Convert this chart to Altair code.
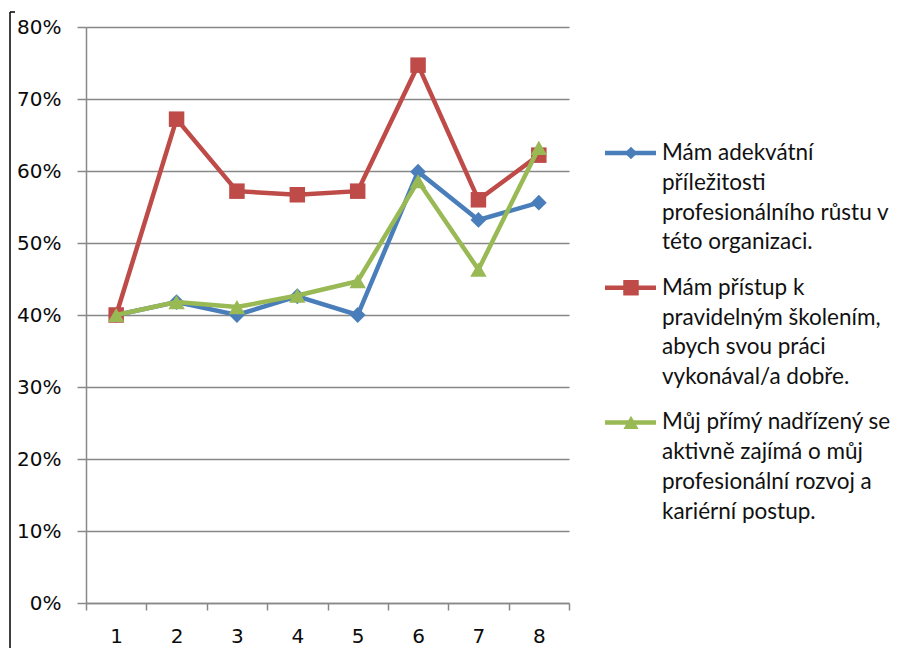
import altair as alt
import pandas as pd

# Survey items (legend text, one list entry per printed line)
series_names = [
    "Mám adekvátní příležitosti profesionálního růstu v této organizaci.",
    "Mám přístup k pravidelným školením, abych svou práci vykonával/a dobře.",
    "Můj přímý nadřízený se aktivně zajímá o můj profesionální rozvoj a kariérní postup.",
]
legend_lines = [
    ["Mám adekvátní", "příležitosti", "profesionálního růstu  v", "této organizaci."],
    ["Mám přístup  k", "pravidelným školením,", "abych svou práci", "vykonával/a  dobře."],
    ["Můj přímý nadřízený se", "aktivně zajímá  o můj", "profesionální rozvoj a", "kariérní postup."],
]
categories = ["1", "2", "3", "4", "5", "6", "7", "8"]
values_blue = [0.400, 0.418, 0.400, 0.426, 0.400, 0.599, 0.532, 0.556]
values_red = [0.400, 0.672, 0.572, 0.567, 0.572, 0.747, 0.560, 0.622]
values_green = [0.400, 0.418, 0.411, 0.427, 0.447, 0.586, 0.463, 0.632]
y_ticks = [0, 0.1, 0.2, 0.3, 0.4, 0.5, 0.6, 0.7, 0.8]

colors = ["#4A7EBB", "#BE4B48", "#98B954"]
shapes = ["diamond", "square", "triangle-up"]
sizes = [250, 240, 270]
legend_sizes = [160, 240, 230]

all_values = [values_blue, values_red, values_green]
rows = []
for name, vals in zip(series_names, all_values):
    for cat, v in zip(categories, vals):
        rows.append({"series": name, "cat": cat, "value": v})
df = pd.DataFrame(rows)

leg_rows = []
for i, (name, lines) in enumerate(zip(series_names, legend_lines)):
    for j, txt in enumerate(lines):
        leg_rows.append({"series": name, "slot": i * 4.52 + j, "line": j, "text": txt,
                         "msize": legend_sizes[i]})
legend_df = pd.DataFrame(leg_rows)

GRID = "#888888"
W, H = 483, 576

x_enc = alt.X(
    "cat:O",
    sort=categories,
    scale=alt.Scale(paddingInner=0, paddingOuter=0),
    axis=alt.Axis(
        title=None, labelAngle=0, tickBand="extent", tickSize=7, tickColor=GRID,
        tickWidth=1.5, domainColor=GRID, domainWidth=1.5, labelPadding=16,
        labelFont="DejaVu Sans", labelFontSize=20, labelColor="#0a0a0a", grid=False,
    ),
)
y_scale = alt.Scale(domain=[0, 0.8], nice=False, zero=True)
y_axis = alt.Axis(
    title=None, values=y_ticks, format=".0%", tickSize=9, tickColor=GRID,
    tickWidth=1.5, domainColor=GRID, domainWidth=1.5, gridColor=GRID,
    gridWidth=1.5, labelPadding=16, labelFont="DejaVu Sans",
    labelFontSize=20, labelColor="#0a0a0a",
)
color_scale = alt.Scale(domain=series_names, range=colors)
shape_scale = alt.Scale(domain=series_names, range=shapes)

plot_layers = []
for k, name in enumerate(series_names):
    base = alt.Chart(df).transform_filter(alt.datum.series == name)
    y_enc = alt.Y("value:Q", scale=y_scale, axis=y_axis)
    line = base.mark_line(strokeWidth=4.5, strokeJoin="miter").encode(
        x=x_enc, y=y_enc,
        color=alt.Color("series:N", scale=color_scale, legend=None),
    )
    pts = base.mark_point(filled=True, opacity=1, size=sizes[k]).encode(
        x=x_enc, y=y_enc,
        color=alt.Color("series:N", scale=color_scale, legend=None),
        shape=alt.Shape("series:N", scale=shape_scale, legend=None),
    )
    plot_layers += [line, pts]

plot = alt.layer(*plot_layers)

# Hand-built legend: line sample with marker, followed by wrapped text
leg_y = alt.Scale(domain=[-4.23, 15.1], reverse=True)
leg_base = alt.Chart(legend_df)
leg_text = leg_base.mark_text(
    align="left", baseline="middle", font="Lato", fontSize=22.5, color="#111111"
).encode(
    x=alt.value(576),
    y=alt.Y("slot:Q", scale=leg_y, axis=None),
    text="text:N",
)
first = leg_base.transform_filter(alt.datum.line == 0)
leg_rule = first.mark_rule(strokeWidth=4.5).encode(
    x=alt.value(519), x2=alt.value(570),
    y=alt.Y("slot:Q", scale=leg_y, axis=None),
    color=alt.Color("series:N", scale=color_scale, legend=None),
)
leg_pt = first.mark_point(filled=True, opacity=1).encode(
    x=alt.value(545),
    y=alt.Y("slot:Q", scale=leg_y, axis=None),
    color=alt.Color("series:N", scale=color_scale, legend=None),
    shape=alt.Shape("series:N", scale=shape_scale, legend=None),
    size=alt.Size("msize:Q", scale=None, legend=None),
)
legend = alt.layer(leg_rule, leg_pt, leg_text)

# Outer frame edge on the left
frame_v = alt.Chart(pd.DataFrame({"k": [0]})).mark_rule(color="#000000", strokeWidth=1.5).encode(
    x=alt.value(-76), y=alt.value(-15), y2=alt.value(630)
)
frame_h = alt.Chart(pd.DataFrame({"k": [0]})).mark_rule(color="#000000", strokeWidth=1.5).encode(
    x=alt.value(-76), x2=alt.value(-71), y=alt.value(-15)
)

chart = (
    alt.layer(plot, legend, frame_v, frame_h)
    .resolve_scale(y="independent")
    .properties(
        width=W, height=H,
        autosize=alt.AutoSizeParams(type="none"),
        padding={"left": 86, "top": 27, "right": 335, "bottom": 45},
        background="white",
    )
    .configure_view(stroke=None)
)

chart.save("out.html", embed_options={"renderer": "svg", "actions": False})
